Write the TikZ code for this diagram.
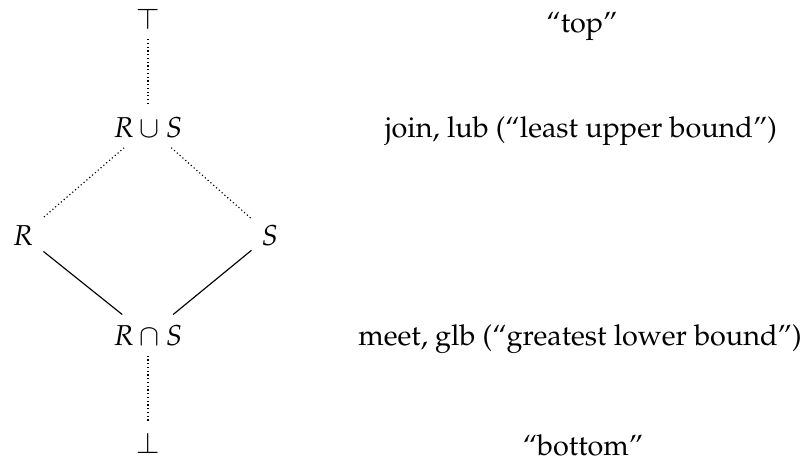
\documentclass[tikz,border=0pt]{standalone}
\usepackage[T1]{fontenc}
\usepackage{mathpazo}
\begin{document}
\begin{tikzpicture}[x=0.3472pt,y=-0.3472pt,
  elem/.style={anchor=base},
  lbl/.style={inner sep=0pt,anchor=base},
  dot/.style={line width=0.4pt,dash pattern=on 0.4pt off 0.9pt},
  sol/.style={line width=0.4pt}]
\useasboundingbox (0,0) rectangle (808,459);
\node[elem] (top) at (148,29) {$\top$};
\node[elem] (join) at (148,137) {$R\cup S$};
\node[elem] (r) at (23,245) {$R$};
\node[elem] (s) at (270,245) {$S$};
\node[elem] (meet) at (148,345) {$R\cap S$};
\node[elem] (bot) at (148,453) {$\bot$};
\node[lbl] (ltop) at (582,32) {``top''};
\node[lbl] (ljoin) at (581,137) {join, lub (``least upper bound'')};
\node[lbl] (lmeet) at (580,345) {meet, glb (``greatest lower bound'')};
\node[lbl] (lbot) at (583,455) {``bottom''};
\draw[dot] (top) -- (join);
\draw[dot] (join) -- (r);
\draw[dot] (join) -- (s);
\draw[sol] (r) -- (meet);
\draw[sol] (s) -- (meet);
\draw[dot] (meet) -- (bot);
\end{tikzpicture}
\end{document}
